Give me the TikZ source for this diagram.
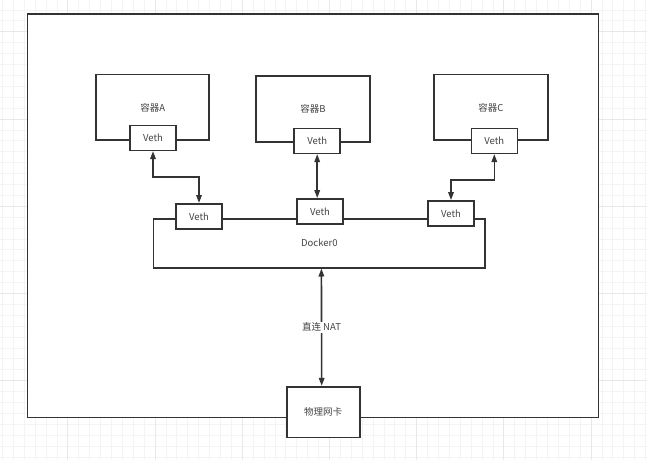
\documentclass[tikz,border=0pt]{standalone}
\usepackage{fontspec}
\setmainfont{Noto Sans CJK SC}
\usetikzlibrary{arrows.meta}
\definecolor{gridminor}{HTML}{F4F4F4}
\definecolor{gridmajor}{HTML}{E8E8E8}
\definecolor{linec}{HTML}{333333}
\definecolor{textc}{HTML}{444444}
\tikzset{
  box/.style={draw=linec, line width=1.6pt, fill=white, rectangle, inner sep=0pt, text=textc, font=\fontsize{9.5}{11}\selectfont},
  vethbox/.style={box, minimum width=46pt, minimum height=25pt},
  conn/.style={draw=linec, line width=1.6pt, {Triangle[length=8pt,width=5.5pt]}-{Triangle[length=8pt,width=5.5pt]}},
  lbl/.style={fill=white, text=textc, inner sep=1pt, font=\fontsize{9.5}{11}\selectfont}
}
\begin{document}
\begin{tikzpicture}[x=1pt,y=-1pt]
\useasboundingbox (0,0) rectangle (647,460);
\fill[white] (0,0) rectangle (647,460);
% background grid
\foreach \i in {0,...,59} {
  \pgfmathsetmacro{\xx}{2.3+10.9*\i}
  \pgfmathsetmacro{\yy}{9.9+10.9*\i}
  \draw[gridminor, line width=0.6pt] (\xx,0) -- (\xx,460);
  \draw[gridminor, line width=0.6pt] (0,\yy) -- (647,\yy);
}
\foreach \i in {0,...,7} {
  \pgfmathsetmacro{\xx}{67.7+87.2*(\i-1)}
  \pgfmathsetmacro{\yy}{31.7+87.2*(\i-1)}
  \draw[gridmajor, line width=0.7pt] (\xx,0) -- (\xx,460);
  \draw[gridmajor, line width=0.7pt] (0,\yy) -- (647,\yy);
}
% outer frame
\node[box, minimum width=571pt, minimum height=403.5pt] (outer) at (313,215.75) {};
% containers
\node[box, minimum width=113pt, minimum height=65.5pt] (cA) at (152.7,107.4) {容器A};
\node[box, minimum width=114pt, minimum height=66pt] (cB) at (313,109) {容器B};
\node[box, minimum width=113.5pt, minimum height=65.5pt] (cC) at (491,107.4) {容器C};
\node[vethbox] (vA) at (153,137.8) {Veth};
\node[vethbox] (vB) at (317.2,140.8) {Veth};
\node[vethbox] (vC) at (494.3,140.8) {Veth};
% docker0
\node[box, minimum width=331.5pt, minimum height=49pt] (d0) at (319.4,243.2) {Docker0};
\node[vethbox] (v1) at (199,216.3) {Veth};
\node[vethbox] (v2) at (320,211.4) {Veth};
\node[vethbox] (v3) at (451,213.4) {Veth};
% physical NIC
\node[box, minimum width=73pt, minimum height=50.6pt] (nic) at (323.2,412) {物理网卡};
% connectors
\draw[conn] (vA.south) -- ++(0,26) -| (v1.north);
\draw[conn] (vC.south) -- ++(0,26) -| (v3.north);
\draw[conn] (vB.south) -- (vB.south |- v2.north);
\draw[conn] ([xshift=2pt]d0.south) -- node[lbl, pos=0.5] {直连 NAT} ([xshift=-1.5pt]nic.north);
\end{tikzpicture}
\end{document}
